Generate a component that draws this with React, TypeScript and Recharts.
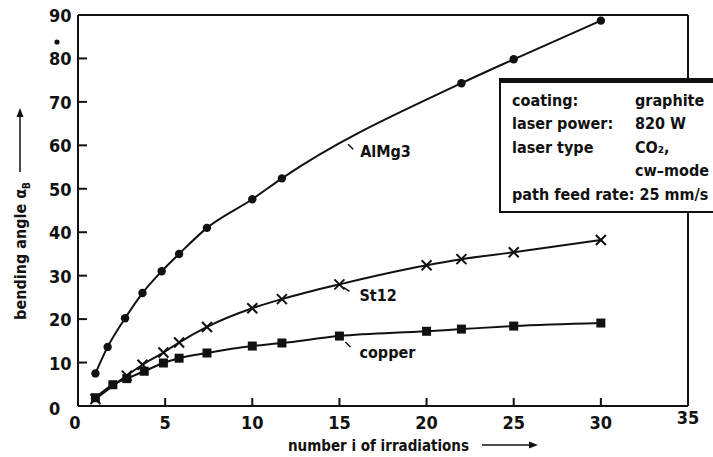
import React from 'react';
import {
  LineChart,
  Line,
  XAxis,
  YAxis,
  ReferenceDot,
  ReferenceLine,
} from 'recharts';

// number i of irradiations, read per curve
const iAlMg3 = [1, 1.7, 2.7, 3.7, 4.8, 5.8, 7.4, 10, 11.7, 22, 25, 30];
const angleAlMg3 = [7.5, 13.6, 20.2, 26, 31, 35, 41, 47.6, 52.4, 74.3, 79.8, 88.7];

const iSt12 = [1, 2.8, 3.7, 4.9, 5.8, 7.4, 10, 11.7, 15, 20, 22, 25, 30];
const angleSt12 = [1.6, 7, 9.5, 12.3, 14.6, 18.2, 22.5, 24.6, 28, 32.4, 33.8, 35.4, 38.2];

const iCopper = [1, 2, 2.8, 3.8, 4.9, 5.8, 7.4, 10, 11.7, 15, 20, 22, 25, 30];
const angleCopper = [1.9, 4.9, 6.3, 8, 9.9, 11, 12.2, 13.8, 14.5, 16.1, 17.2, 17.7, 18.4, 19.1];

const xTicks = [0, 5, 10, 15, 20, 25, 30, 35];
const yTicks = [0, 10, 20, 30, 40, 50, 60, 70, 80, 90];

const infoRows = [
  ['coating:', 'graphite'],
  ['laser power:', '820 W'],
  ['laser type', 'CO₂,'],
  ['', 'cw–mode'],
];
const feedRow = 'path feed rate: 25 mm/s';

const FONT = '"DejaVu Sans Condensed", "DejaVu Sans", sans-serif';
const INK = '#111';

const toRows = (xs: number[], ys: number[]) => xs.map((i, k) => ({ i, v: ys[k] }));

function CircleDot({ cx, cy }: any) {
  return <circle cx={cx} cy={cy} r={4.2} fill={INK} />;
}

function CrossDot({ cx, cy }: any) {
  const s = 5;
  return (
    <g stroke={INK} strokeWidth={2}>
      <line x1={cx - s} y1={cy - s} x2={cx + s} y2={cy + s} />
      <line x1={cx - s} y1={cy + s} x2={cx + s} y2={cy - s} />
    </g>
  );
}

function SquareDot({ cx, cy }: any) {
  return <rect x={cx - 4.5} y={cy - 4.5} width={9} height={9} fill={INK} />;
}

function YTick({ x, y, payload }: any) {
  const v = payload.value;
  return (
    <g>
      {v > 0 && v < 90 && <line x1={x} y1={y} x2={x + 9} y2={y} stroke={INK} strokeWidth={2} />}
      <text x={x - 29} y={y + 7 + (v === 0 ? 2 : 0)} fontFamily={FONT} fontSize={18} fontWeight="bold" fill={INK}>
        {v}
      </text>
      {v === 90 && <circle cx={x - 21} cy={y + 27} r={2.6} fill={INK} />}
    </g>
  );
}

function XTick({ x, y, payload }: any) {
  const v = payload.value;
  return (
    <g>
      {v > 0 && v < 35 && <line x1={x} y1={y} x2={x} y2={y - 8} stroke={INK} strokeWidth={2} />}
      <text
        x={x - (v === 0 ? 3 : 0)}
        y={y + 23 - (v === 35 ? 5 : 0)}
        textAnchor="middle"
        fontFamily={FONT}
        fontSize={18}
        fontWeight="bold"
        fill={INK}
      >
        {v}
      </text>
    </g>
  );
}

function XLabel() {
  return (
    <g>
      <text x={288} y={451} fontFamily={FONT} fontSize={15} fontWeight="bold" fill={INK}>
        number i of irradiations
      </text>
      <line x1={482} y1={445} x2={532} y2={445} stroke={INK} strokeWidth={1.5} />
      <path d="M538,445 L529,441.5 L529,448.5 Z" fill={INK} />
    </g>
  );
}

function YLabel() {
  return (
    <g>
      <text
        x={26}
        y={251}
        transform="rotate(-90 26 251)"
        textAnchor="middle"
        fontFamily={FONT}
        fontSize={16}
        fontWeight="bold"
        fill={INK}
      >
        bending angle α
        <tspan dy={4} fontSize={10}>B</tspan>
      </text>
      <line x1={20} y1={172} x2={20} y2={115} stroke={INK} strokeWidth={1.5} />
      <path d="M20,108 L16.5,117 L23.5,117 Z" fill={INK} />
    </g>
  );
}

function SeriesLabel({ cx, cy, text, lx1, ly1, lx2, ly2, tx, ty }: any) {
  return (
    <g>
      <line x1={cx + lx1} y1={cy + ly1} x2={cx + lx2} y2={cy + ly2} stroke={INK} strokeWidth={1.5} />
      <text x={cx + tx} y={cy + ty} fontFamily={FONT} fontSize={16} fontWeight="bold" fill={INK}>
        {text}
      </text>
    </g>
  );
}

export default function App() {
  const alRows = toRows(iAlMg3, angleAlMg3);
  const stRows = toRows(iSt12, angleSt12);
  const cuRows = toRows(iCopper, angleCopper);

  return (
    <div
      style={{
        position: 'absolute',
        left: 0,
        top: 0,
        width: 713,
        height: 457,
        overflow: 'hidden',
        background: '#fff',
      }}
    >
      <LineChart width={713} height={457} margin={{ top: 15, right: 25, bottom: 0, left: 0 }}>
        <XAxis
          dataKey="i"
          type="number"
          domain={[0, 35]}
          ticks={xTicks}
          height={51}
          tickSize={0}
          tickMargin={0}
          tickLine={false}
          axisLine={{ stroke: INK, strokeWidth: 2 }}
          tick={<XTick />}
          label={<XLabel />}
          allowDataOverflow
        />
        <YAxis
          type="number"
          domain={[0, 90]}
          ticks={yTicks}
          width={78}
          tickSize={0}
          tickMargin={0}
          tickLine={false}
          axisLine={{ stroke: INK, strokeWidth: 2 }}
          tick={<YTick />}
          label={<YLabel />}
          allowDataOverflow
        />
        <ReferenceLine y={90} stroke={INK} strokeWidth={2} />
        <ReferenceLine x={35} stroke={INK} strokeWidth={2} />
        <Line
          data={alRows}
          dataKey="v"
          type="monotone"
          stroke={INK}
          strokeWidth={2}
          dot={<CircleDot />}
          activeDot={false}
          isAnimationActive={false}
        />
        <Line
          data={stRows}
          dataKey="v"
          type="monotone"
          stroke={INK}
          strokeWidth={2}
          dot={<CrossDot />}
          activeDot={false}
          isAnimationActive={false}
        />
        <Line
          data={cuRows}
          dataKey="v"
          type="monotone"
          stroke={INK}
          strokeWidth={2}
          dot={<SquareDot />}
          activeDot={false}
          isAnimationActive={false}
        />
        <ReferenceDot
          x={15.5}
          y={60.5}
          r={0}
          shape={(p: any) => (
            <SeriesLabel cx={p.cx} cy={p.cy} text="AlMg3" lx1={0} ly1={1} lx2={5} ly2={6} tx={12} ty={14} />
          )}
        />
        <ReferenceDot
          x={15}
          y={28}
          r={0}
          shape={(p: any) => (
            <SeriesLabel cx={p.cx} cy={p.cy} text="St12" lx1={4} ly1={3} lx2={10} ly2={7} tx={20} ty={17} />
          )}
        />
        <ReferenceDot
          x={15}
          y={16.1}
          r={0}
          shape={(p: any) => (
            <SeriesLabel cx={p.cx} cy={p.cy} text="copper" lx1={6} ly1={6} lx2={11} ly2={11} tx={20} ty={22} />
          )}
        />
      </LineChart>
      <div
        style={{
          position: 'absolute',
          left: 499,
          top: 78,
          width: 300,
          height: 128,
          background: '#fff',
          borderTop: `5px solid ${INK}`,
          borderLeft: `2px solid ${INK}`,
          borderBottom: `2px solid ${INK}`,
          fontFamily: FONT,
          fontSize: 16,
          fontWeight: 'bold',
          color: INK,
          boxSizing: 'content-box',
        }}
      >
        {infoRows.map(([k, v], idx) => (
          <div
            key={idx}
            style={{ position: 'absolute', top: 6 + idx * 23.4, left: 11, height: 23, lineHeight: '23px', whiteSpace: 'nowrap' }}
          >
            <span style={{ display: 'inline-block', width: 123 }}>{k}</span>
            <span>{v}</span>
          </div>
        ))}
        <div
          style={{ position: 'absolute', top: 6 + 4 * 23.4, left: 11, height: 23, lineHeight: '23px', whiteSpace: 'nowrap' }}
        >
          {feedRow}
        </div>
      </div>
    </div>
  );
}
